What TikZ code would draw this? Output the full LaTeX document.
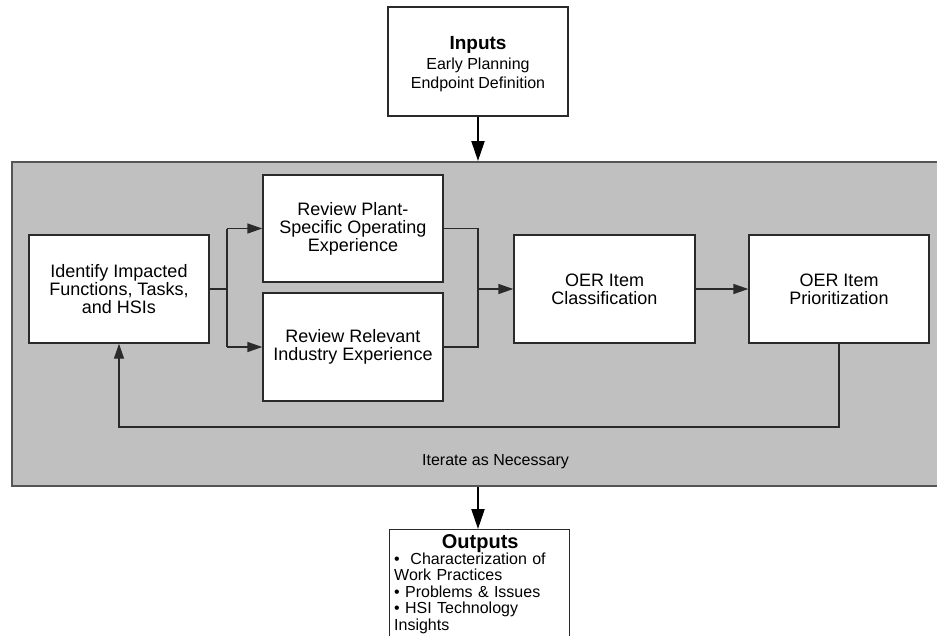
\documentclass[tikz,border=0pt]{standalone}
\usepackage{fontspec}
\setmainfont{Liberation Sans}
\usetikzlibrary{arrows.meta}
\definecolor{panelgray}{HTML}{C0C0C0}
\definecolor{edgegray}{HTML}{555555}
\definecolor{linegray}{HTML}{2A2A2A}
\tikzset{
  procbox/.style={draw=linegray, line width=1.4pt, fill=white, minimum width=180pt,
    minimum height=108pt, inner sep=0pt, align=center, font=\fontsize{18}{18}\selectfont},
  panelbox/.style={draw=edgegray, line width=2pt, fill=panelgray, anchor=north west,
    minimum width=940pt, minimum height=324pt, inner sep=0pt},
  thin/.style={draw=linegray, line width=1.4pt},
  thinarrow/.style={thin, -{Triangle[length=15pt,width=10pt]}},
  bigarrow/.style={draw=black, line width=2.2pt, -{Triangle[length=20pt,width=13pt]}},
  plaintext/.style={inner sep=0pt, font=\fontsize{16}{16}\selectfont}
}
\begin{document}
\begin{tikzpicture}[x=1pt,y=-1pt]
\useasboundingbox (0,0) rectangle (937,635);
\clip (0,0) rectangle (937,635);
% inputs
\node[procbox, minimum height=109pt] (inputs) at (478,61.5) {};
\node[align=center, inner sep=0pt, font=\fontsize{16}{19}\selectfont] (inputstext) at (478,64)
  {{\fontsize{19}{19}\selectfont\bfseries Inputs}\\[1pt]Early Planning\\Endpoint Definition};
% panel
\node[panelbox] (panel) at (11,161) {};
\node[plaintext] (iter) at (495.5,462) {Iterate as Necessary};
% process boxes
\node[procbox] (identify) at (119,289) {Identify Impacted\\Functions, Tasks,\\and HSIs};
\node[procbox, minimum height=107pt] (plant) at (353,228.5) {Review Plant-\\Specific Operating\\Experience};
\node[procbox] (relevant) at (353,347) {Review Relevant\\Industry Experience};
\node[procbox, minimum width=181pt] (class) at (604.5,289) {OER Item\\Classification};
\node[procbox] (prior) at (839,289) {OER Item\\Prioritization};
% outputs
\node[draw=linegray, line width=1.4pt, fill=white, anchor=north west, minimum width=180pt,
  minimum height=120pt, inner sep=0pt] (outputs) at (389,529) {};
\node[anchor=north west, inner sep=0pt, text width=172pt, align=left,
  font=\fontsize{16}{16.4}\selectfont] (outtext) at (394,534)
  {\makebox[172pt][c]{\fontsize{20}{20}\selectfont\bfseries Outputs}\\
   •\ \ Characterization of\\
   Work Practices\\
   • Problems \& Issues\\
   • HSI Technology\\
   Insights};
% connectors
\coordinate (split) at (227,289);
\coordinate (join) at (478,289);
\draw[thin] (identify.east) -- (split);
\draw[thin] (split |- plant.west) -- (split |- relevant.west);
\draw[thinarrow] (split |- plant.west) -- (plant.west);
\draw[thinarrow] (split |- relevant.west) -- (relevant.west);
\draw[thin] (plant.east) -- (join |- plant.east) -- (join |- relevant.east) -- (relevant.east);
\draw[thinarrow] (join) -- (class.west);
\draw[thinarrow] (class.east) -- (prior.west);
\coordinate (loopy) at (0,427);
\draw[thinarrow] (prior.south) -- (prior.south |- loopy) -- (identify.south |- loopy) -- (identify.south);
\draw[bigarrow] (inputs.south) -- (inputs.south |- panel.north);
\draw[bigarrow] (inputs.south |- panel.south) -- (outputs.north -| inputs.south);
\end{tikzpicture}
\end{document}
